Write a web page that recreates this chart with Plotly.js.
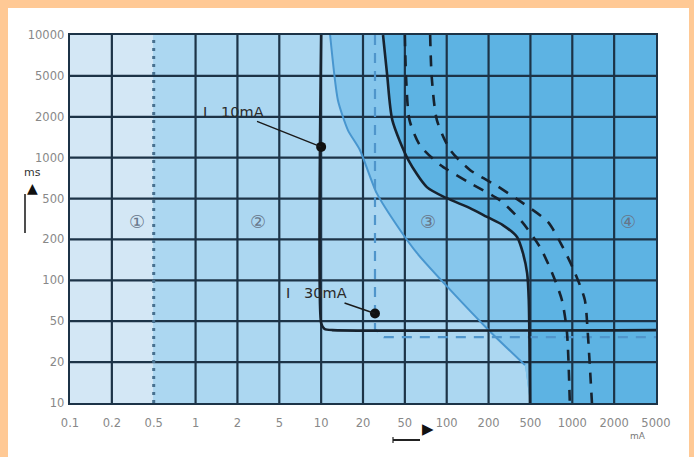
<!DOCTYPE html>
<html>
<head>
<meta charset="utf-8">
<script src="https://cdn.plot.ly/plotly-3.0.1.min.js"></script>
<style>
  html, body { margin: 0; padding: 0; background: #FFC995; width: 694px; height: 457px; overflow: hidden; }
  #chart { position: absolute; left: 8px; top: 8px; width: 681px; height: 449px; background: #ffffff; }
</style>
</head>
<body>
<div id="chart"></div>
<script>
// ---- Axis tick values (evenly spaced 1-2-5 grid) ----
const xTicks = [0.1, 0.2, 0.5, 1, 2, 5, 10, 20, 50, 100, 200, 500, 1000, 2000, 5000];
const xTickText = ['0.1', '0.2', '0.5', '1', '2', '5', '10', '20', '50', '100', '200', '500', '1000', '2000', '5000'];
const yTicks = [10, 20, 50, 100, 200, 500, 1000, 2000, 5000, 10000];
const yTickText = ['10', '20', '50', '100', '200', '500', '1000', '2000', '5000', '10000'];

// ---- Zone boundary between zone 2 and 3 (curve b) ----
const curveB_mA = [11.6, 13.2, 15.6, 19, 27, 45, 61, 106, 205, 444];
const curveB_ms = [10000, 2900, 1590, 1140, 548, 247, 159, 85, 40, 19];

// ---- Curve c1 (solid black) ----
const curveC1_mA = [31, 34, 38, 53, 72, 100, 147, 195, 273, 373, 424, 465, 482, 495];
const curveC1_ms = [10000, 5000, 1890, 960, 607, 503, 404, 331, 276, 211, 159, 113, 72, 10];

// ---- Curves c2, c3 (dashed black) ----
const curveC2_mA = [50, 51, 54, 64, 90, 147, 256, 416, 587, 712, 841, 914, 960];
const curveC2_ms = [10000, 4900, 1890, 1240, 883, 651, 482, 296, 175, 115, 72, 40, 10];
const curveC3_mA = [76, 78, 85, 106, 147, 240, 424, 668, 841, 1040, 1230, 1290, 1385];
const curveC3_ms = [10000, 4900, 1890, 1140, 812, 620, 451, 296, 181, 115, 72, 40, 10];

// ---- RCD trip characteristics ----
const rcd10_mA = [10, 10, 10.6, 12, 5000];
const rcd10_ms = [10000, 48, 42, 41, 41];
const rcd30_mA = [26, 26, 31.6, 5000];
const rcd30_ms = [10000, 42, 35, 35];

// ---- Marked points ----
const dot_mA = [10, 26];
const dot_ms = [1200, 57];
const dotLabels = ['I&nbsp;&nbsp;&nbsp;10mA', 'I&nbsp;&nbsp;&nbsp;30mA'];

// ---- Zone numbers ----
const zoneLabels = ['\u2460', '\u2461', '\u2462', '\u2463'];
const zone_mA = [0.35, 3.13, 73, 2700];
const zone_ms = [300, 300, 300, 300];

// map a value onto the evenly spaced 1-2-5 grid
function toIdx(v, ticks) {
  const n = ticks.length;
  if (v <= ticks[0]) return 0;
  for (let i = 0; i < n - 1; i++) {
    if (v <= ticks[i + 1]) {
      return i + Math.log(v / ticks[i]) / Math.log(ticks[i + 1] / ticks[i]);
    }
  }
  return n - 1;
}
const X = a => a.map(v => toIdx(v, xTicks));
const Y = a => a.map(v => toIdx(v, yTicks));

const xMin = xTicks[0], xMax = xTicks[xTicks.length - 1];
const yMin = yTicks[0], yMax = yTicks[yTicks.length - 1];

const traces = [];

// Zone 1 fill
traces.push({
  x: X([xMin, 0.5, 0.5, xMin]), y: Y([yMin, yMin, yMax, yMax]),
  mode: 'lines', fill: 'toself', fillcolor: '#D3E7F5', line: {width: 0}, hoverinfo: 'skip'
});
// Zone 2 fill
traces.push({
  x: X([0.5, 0.5].concat(curveB_mA, [curveC1_mA[curveC1_mA.length - 1]])),
  y: Y([yMin, yMax].concat(curveB_ms, [yMin])),
  mode: 'lines', fill: 'toself', fillcolor: '#ACD7F1', line: {width: 0}, hoverinfo: 'skip'
});
// Zone 3 fill
traces.push({
  x: X(curveB_mA.concat(curveC1_mA.slice().reverse())),
  y: Y(curveB_ms.concat(curveC1_ms.slice().reverse())),
  mode: 'lines', fill: 'toself', fillcolor: '#86C6EC', line: {width: 0}, hoverinfo: 'skip'
});

// Grid lines
const gx = [], gy = [];
for (let i = 1; i < xTicks.length - 1; i++) {
  if (xTicks[i] === 0.5) continue;
  gx.push(i, i, null); gy.push(0, yTicks.length - 1, null);
}
for (let j = 1; j < yTicks.length - 1; j++) {
  gx.push(0, xTicks.length - 1, null); gy.push(j, j, null);
}
traces.push({x: gx, y: gy, mode: 'lines', line: {color: '#1C3347', width: 2.2}, hoverinfo: 'skip'});
// Dotted 0.5 mA line
traces.push({
  x: X([0.5, 0.5]), y: Y([yMin, yMax]), mode: 'lines',
  line: {color: '#47708F', width: 3, dash: '3px,5px'}, hoverinfo: 'skip'
});

// Curve b
traces.push({
  x: X(curveB_mA), y: Y(curveB_ms), mode: 'lines',
  line: {color: '#4896CF', width: 2, shape: 'spline', smoothing: 0.6}, hoverinfo: 'skip'
});
// 30 mA RCD (dashed blue)
traces.push({
  x: X(rcd30_mA), y: Y(rcd30_ms), mode: 'lines',
  line: {color: '#4F95CB', width: 2.2, dash: '10px,8px'}, hoverinfo: 'skip'
});
// 10 mA RCD (solid black)
traces.push({
  x: X(rcd10_mA), y: Y(rcd10_ms), mode: 'lines',
  line: {color: '#17222E', width: 2.6, shape: 'spline', smoothing: 0.5}, hoverinfo: 'skip'
});
// c1
traces.push({
  x: X(curveC1_mA), y: Y(curveC1_ms), mode: 'lines',
  line: {color: '#17222E', width: 2.6, shape: 'spline', smoothing: 0.7}, hoverinfo: 'skip'
});
// c2, c3
traces.push({
  x: X(curveC2_mA), y: Y(curveC2_ms), mode: 'lines',
  line: {color: '#17222E', width: 2.6, dash: '11px,9px', shape: 'spline', smoothing: 0.7}, hoverinfo: 'skip'
});
traces.push({
  x: X(curveC3_mA), y: Y(curveC3_ms), mode: 'lines',
  line: {color: '#17222E', width: 2.6, dash: '11px,9px', shape: 'spline', smoothing: 0.7}, hoverinfo: 'skip'
});
// dots
traces.push({
  x: X(dot_mA), y: Y(dot_ms), mode: 'markers',
  marker: {color: '#111111', size: 10}, hoverinfo: 'skip'
});

// pixel -> paper helpers for the decorative axis arrows
const PL = 70 - 8, PT = 35 - 8, PW = 586, PH = 368;
const px = p => (p - 70) / PW;
const py = p => (403 - p) / PH;

const annotations = [];
// dot labels
const dotOffsets = [[-88, -35], [-58, -20]];
dot_mA.forEach((m, i) => {
  annotations.push({
    x: toIdx(m, xTicks), y: toIdx(dot_ms[i], yTicks), xref: 'x', yref: 'y',
    text: dotLabels[i], showarrow: true, arrowhead: 0, arrowwidth: 1.4, arrowcolor: '#1a1a1a',
    ax: dotOffsets[i][0], ay: dotOffsets[i][1],
    font: {family: 'DejaVu Sans', size: 14.5, color: '#2a2a2a'}
  });
});
// zone numbers
zoneLabels.forEach((t, i) => {
  annotations.push({
    x: toIdx(zone_mA[i], xTicks), y: toIdx(zone_ms[i], yTicks), xref: 'x', yref: 'y',
    text: t, showarrow: false, font: {family: 'DejaVu Sans', size: 18, color: '#66768A'}
  });
});
// axis unit labels and arrows
annotations.push({x: px(22), y: py(172), xref: 'paper', yref: 'paper', text: 'ms', showarrow: false,
  font: {family: 'DejaVu Sans', size: 11, color: '#333'}});
annotations.push({x: px(25), y: py(188), xref: 'paper', yref: 'paper', text: '\u25B2', showarrow: false,
  font: {family: 'DejaVu Sans', size: 14, color: '#111'}});
annotations.push({x: px(428), y: py(440), xref: 'paper', yref: 'paper', text: '\u25B6', showarrow: false,
  font: {family: 'DejaVu Sans', size: 15, color: '#111'}});
annotations.push({x: px(648), y: py(443), xref: 'paper', yref: 'paper', text: 'mA', showarrow: false,
  font: {family: 'DejaVu Sans', size: 9, color: '#777'}});

const shapes = [
  {type: 'line', xref: 'paper', yref: 'paper', x0: px(25), x1: px(25), y0: py(194), y1: py(233),
   line: {color: '#222', width: 1.6}},
  {type: 'line', xref: 'paper', yref: 'paper', x0: px(393), x1: px(420), y0: py(440), y1: py(440),
   line: {color: '#222', width: 2}},
  {type: 'line', xref: 'paper', yref: 'paper', x0: px(393), x1: px(393), y0: py(437), y1: py(443),
   line: {color: '#222', width: 1.2}}
];

const layout = {
  width: 681, height: 449,
  margin: {l: PL, r: 33, t: PT, b: 54},
  paper_bgcolor: '#ffffff',
  plot_bgcolor: '#5DB3E3',
  showlegend: false,
  font: {family: 'DejaVu Sans'},
  xaxis: {
    range: [0, xTicks.length - 1], tickvals: xTicks.map((v, i) => i), ticktext: xTickText,
    showgrid: false, zeroline: false, showline: true, mirror: true, linecolor: '#1C3347', linewidth: 2.4,
    ticks: '', ticklabelstandoff: 8, tickfont: {family: 'DejaVu Sans', size: 11.5, color: '#888'},
    fixedrange: true
  },
  yaxis: {
    range: [0, yTicks.length - 1], tickvals: yTicks.map((v, i) => i), ticktext: yTickText,
    showgrid: false, zeroline: false, showline: true, mirror: true, linecolor: '#1C3347', linewidth: 2.4,
    ticks: '', ticklabelstandoff: 1, tickfont: {family: 'DejaVu Sans', size: 11.5, color: '#888'},
    fixedrange: true
  },
  annotations: annotations,
  shapes: shapes
};

Plotly.newPlot('chart', traces, layout, {displayModeBar: false, staticPlot: true});
</script>
</body>
</html>
